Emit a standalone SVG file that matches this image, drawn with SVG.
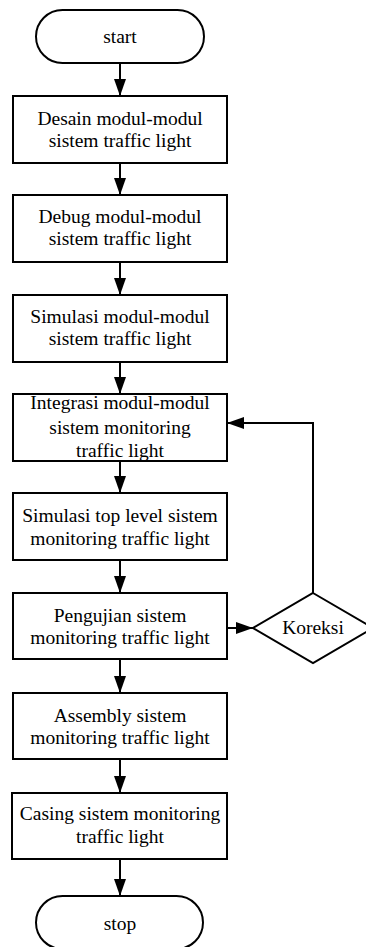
<svg xmlns="http://www.w3.org/2000/svg" width="366" height="947" viewBox="0 0 366 947">
<style>
.box{fill:#fff;stroke:#000;stroke-width:2}
.t{font-family:"Liberation Serif","Times New Roman",serif;font-size:19.5px;fill:#000;text-anchor:middle}
.c{fill:none;stroke:#000;stroke-width:2;marker-end:url(#ah)}
</style>
<defs>
<marker id="ah" markerUnits="userSpaceOnUse" markerWidth="18" markerHeight="12" refX="17" refY="6" orient="auto">
<path d="M0,0 L17,6 L0,12 z" fill="#000"/>
</marker>
</defs>
<rect width="366" height="947" fill="#fff"/>
<g id="connectors">
<line class="c" x1="120" y1="63" x2="120" y2="96"/>
<line class="c" x1="120" y1="163" x2="120" y2="195"/>
<line class="c" x1="120" y1="262" x2="120" y2="295"/>
<line class="c" x1="120" y1="362" x2="120" y2="394"/>
<line class="c" x1="120" y1="461" x2="120" y2="493"/>
<line class="c" x1="120" y1="560" x2="120" y2="593"/>
<line class="c" x1="227" y1="628" x2="253" y2="628"/>
<polyline class="c" points="313,593 313,423 227,423"/>
<line class="c" x1="120" y1="659" x2="120" y2="693"/>
<line class="c" x1="120" y1="759" x2="120" y2="793"/>
<line class="c" x1="120" y1="859" x2="120" y2="896"/>
</g>
<g id="start">
<rect class="box" x="36" y="10" width="168" height="53" rx="26.5" ry="26.5"/>
<text class="t" x="120" y="43">start</text>
</g>
<g id="desain">
<rect class="box" x="13" y="96" width="214" height="67"/>
<text class="t" x="120" y="125">Desain modul-modul</text>
<text class="t" x="120" y="147">sistem traffic light</text>
</g>
<g id="debug">
<rect class="box" x="13" y="195" width="214" height="67"/>
<text class="t" x="120" y="223">Debug modul-modul</text>
<text class="t" x="120" y="245">sistem traffic light</text>
</g>
<g id="simulasi">
<rect class="box" x="13" y="295" width="214" height="67"/>
<text class="t" x="120" y="323">Simulasi modul-modul</text>
<text class="t" x="120" y="345">sistem traffic light</text>
</g>
<g id="integrasi">
<rect class="box" x="13" y="394" width="214" height="67"/>
<text class="t" x="120" y="409">Integrasi modul-modul</text>
<text class="t" x="120" y="434">sistem monitoring</text>
<text class="t" x="120" y="457">traffic light</text>
</g>
<g id="simulasi-top">
<rect class="box" x="13" y="493" width="214" height="67"/>
<text class="t" x="120" y="522">Simulasi top level sistem</text>
<text class="t" x="120" y="545">monitoring traffic light</text>
</g>
<g id="pengujian">
<rect class="box" x="13" y="593" width="214" height="66"/>
<text class="t" x="120" y="622">Pengujian sistem</text>
<text class="t" x="120" y="644">monitoring traffic light</text>
</g>
<g id="koreksi">
<polygon class="box" points="313,593 373,628 313,663 253,628"/>
<text class="t" x="313" y="634">Koreksi</text>
</g>
<g id="assembly">
<rect class="box" x="13" y="693" width="214" height="66"/>
<text class="t" x="120" y="722">Assembly sistem</text>
<text class="t" x="120" y="744">monitoring traffic light</text>
</g>
<g id="casing">
<rect class="box" x="12" y="793" width="215" height="66"/>
<text class="t" x="120" y="820">Casing sistem monitoring</text>
<text class="t" x="120" y="843">traffic light</text>
</g>
<g id="stop">
<rect class="box" x="36" y="896" width="167" height="53" rx="26.5" ry="26.5"/>
<text class="t" x="120" y="930">stop</text>
</g>
</svg>
